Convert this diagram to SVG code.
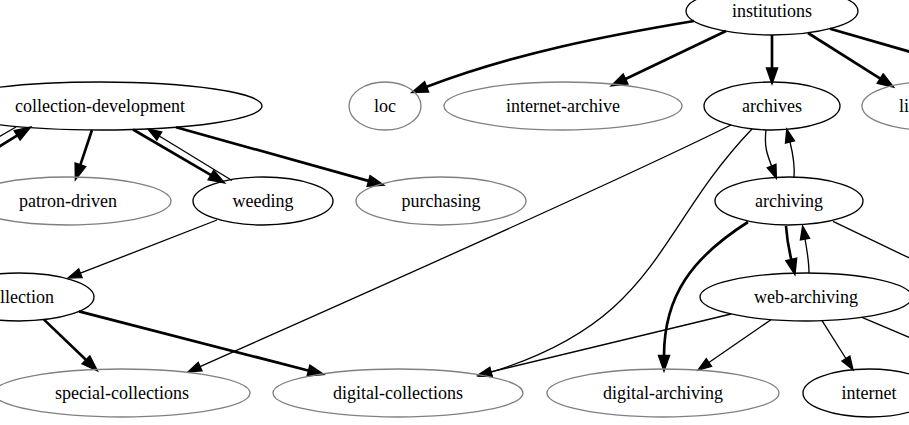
<svg xmlns="http://www.w3.org/2000/svg" width="909" height="425" viewBox="0 0 909 425">
<style>
.n ellipse{fill:none;stroke:#000;stroke-width:1.33}
.n.g ellipse{stroke:#808080}
.n text{font-family:"Liberation Serif","Times New Roman",serif;font-size:18px;fill:#000;text-anchor:middle}
.e path{fill:none;stroke:#000}
.e .t{stroke-width:1.33;marker-end:url(#at)}
.e .k{stroke-width:2.67;marker-end:url(#ak)}
.e .t0{stroke-width:1.33}
.e .k0{stroke-width:2.67}
</style>
<defs>
<marker id="at" markerUnits="userSpaceOnUse" refX="0" refY="4.67" markerWidth="16" markerHeight="12" orient="auto" overflow="visible">
<path d="M0,0 L13.3,4.67 L0,9.33 z" fill="#000" stroke="#000" stroke-width="1.33"/>
</marker>
<marker id="ak" markerUnits="userSpaceOnUse" refX="0" refY="4.67" markerWidth="16" markerHeight="12" orient="auto" overflow="visible">
<path d="M0,0 L13.3,4.67 L0,9.33 z" fill="#000" stroke="#000" stroke-width="2.67"/>
</marker>
</defs>
<rect width="909" height="425" fill="#fff"/>
<g class="e" id="edges">
<path class="k" d="M694,21 C610,35 515,53 426,87"/>
<path class="k" d="M726,31 L625,79.3"/>
<path class="k" d="M772,35 L772,68.7"/>
<path class="k" d="M808,33 L880.7,78.9"/>
<path class="k0" d="M830,28.7 L980,72"/>
<path class="k" d="M92,130 L80.2,165.4"/>
<path class="k" d="M133,129.5 L211.5,175.3"/>
<path class="t" d="M232,180.5 L159.3,136"/>
<path class="k" d="M176,127.2 L369.2,181.1"/>
<path class="k" d="M-30,165 L17.7,135.1"/>
<path class="t0" d="M16,127 L-20,148"/>
<path class="t" d="M217,220 L80.4,273.2"/>
<path class="k" d="M44,319.6 L86.4,360.3"/>
<path class="k" d="M79,311.4 L309.1,370.7"/>
<path class="t" d="M731,125 C600,190 300,322 200.1,366.6"/>
<path class="t" d="M752,129 C655,230 660,320 491,372.2"/>
<path class="t" d="M766,130 C764,146 767,154 771.6,166"/>
<path class="t" d="M794,178 C795,166 793,154 790,142"/>
<path class="k" d="M748,222 C693,257 664,295 664,356"/>
<path class="k" d="M786,226 C787,240 789,250 791.4,260"/>
<path class="t" d="M809,273 C809,262 807,250 805,239"/>
<path class="t0" d="M833,221.3 L980,292"/>
<path class="t0" d="M862,317.4 L980,367"/>
<path class="t" d="M731,314 L490.9,371.9"/>
<path class="t" d="M771,319.7 L708.9,362.5"/>
<path class="t" d="M822,320.7 L845.9,358.5"/>
</g>
<g class="n" id="institutions"><ellipse cx="772" cy="11" rx="86" ry="24"/><text x="772" y="17">institutions</text></g>
<g class="n g" id="loc"><ellipse cx="385" cy="106" rx="36" ry="24"/><text x="385" y="112">loc</text></g>
<g class="n g" id="internet-archive"><ellipse cx="563" cy="106" rx="119" ry="24"/><text x="563" y="112">internet-archive</text></g>
<g class="n" id="archives"><ellipse cx="772" cy="106" rx="68" ry="24"/><text x="772" y="112">archives</text></g>
<g class="n g" id="libraries"><ellipse cx="927" cy="106" rx="65" ry="24"/><text x="899" y="112" style="text-anchor:start">li</text></g>
<g class="n" id="collection-development"><ellipse cx="100" cy="106" rx="162" ry="24"/><text x="100" y="112">collection-development</text></g>
<g class="n g" id="patron-driven"><ellipse cx="68" cy="201" rx="103" ry="24"/><text x="68" y="207">patron-driven</text></g>
<g class="n" id="weeding"><ellipse cx="263" cy="201" rx="70" ry="24"/><text x="263" y="207">weeding</text></g>
<g class="n g" id="purchasing"><ellipse cx="441" cy="201" rx="85" ry="24"/><text x="441" y="207">purchasing</text></g>
<g class="n" id="archiving"><ellipse cx="789" cy="201" rx="74" ry="24"/><text x="789" y="207">archiving</text></g>
<g class="n" id="collection"><ellipse cx="19" cy="297" rx="75" ry="24"/><text x="0" y="303" style="text-anchor:start">llection</text></g>
<g class="n" id="web-archiving"><ellipse cx="806" cy="297" rx="106" ry="24"/><text x="806" y="303">web-archiving</text></g>
<g class="n g" id="special-collections"><ellipse cx="122" cy="393" rx="128" ry="24"/><text x="122" y="399">special-collections</text></g>
<g class="n g" id="digital-collections"><ellipse cx="398" cy="393" rx="125" ry="24"/><text x="398" y="399">digital-collections</text></g>
<g class="n g" id="digital-archiving"><ellipse cx="663" cy="393" rx="116" ry="24"/><text x="663" y="399">digital-archiving</text></g>
<g class="n" id="internet"><ellipse cx="869" cy="393" rx="66" ry="24"/><text x="869" y="399">internet</text></g>
</svg>
